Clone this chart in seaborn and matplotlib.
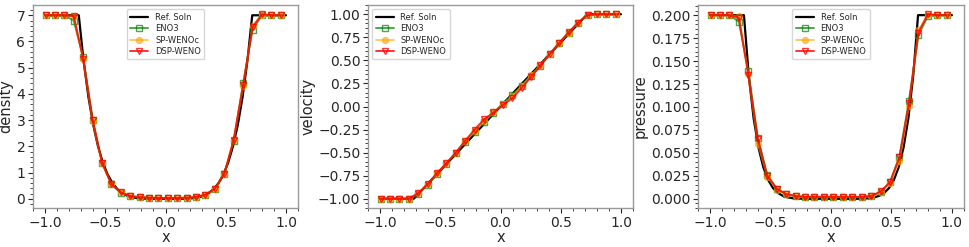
import matplotlib
matplotlib.use("Agg")
import matplotlib.pyplot as plt
from matplotlib.ticker import MultipleLocator, AutoMinorLocator
import seaborn as sns
import numpy as np
import pandas as pd

sns.set_theme(style="ticks")
plt.rcParams['font.family'] = ['DejaVu Sans']

# marker grid (numerical solutions)
x_num = [-0.996, -0.918, -0.840, -0.762, -0.684, -0.605, -0.527, -0.449, -0.371,
         -0.293, -0.215, -0.137, -0.059, 0.020, 0.098, 0.176, 0.254, 0.332,
         0.410, 0.488, 0.566, 0.645, 0.723, 0.801, 0.879, 0.957]

# reference solution points
x_ref = [-1.0, -0.72, -0.68, -0.64, -0.60, -0.56, -0.52, -0.48, -0.44, -0.40, -0.36,
         -0.32, -0.28, -0.24, -0.20, -0.16, -0.12, -0.08, -0.04, 0.0,
         0.04, 0.08, 0.12, 0.16, 0.20, 0.24, 0.28, 0.32, 0.36, 0.40, 0.44,
         0.48, 0.52, 0.56, 0.60, 0.64, 0.68, 0.72, 1.0]

rho_ref = [7.0, 7.0, 5.259, 3.885, 2.813, 1.993, 1.376, 0.922, 0.597, 0.371, 0.219,
           0.121, 0.062, 0.029, 0.012, 0.004, 0.001, 0.0, 0.0, 0.0,
           0.0, 0.0, 0.001, 0.004, 0.012, 0.029, 0.062, 0.121, 0.219, 0.371, 0.597,
           0.922, 1.376, 1.993, 2.813, 3.885, 5.259, 7.0, 7.0]
u_ref = [-1.0, -1.0, -0.944, -0.889, -0.833, -0.778, -0.722, -0.667, -0.611, -0.556, -0.5,
         -0.444, -0.389, -0.333, -0.278, -0.222, -0.167, -0.111, -0.056, 0.0,
         0.056, 0.111, 0.167, 0.222, 0.278, 0.333, 0.389, 0.444, 0.5, 0.556, 0.611,
         0.667, 0.722, 0.778, 0.833, 0.889, 0.944, 1.0, 1.0]
p_ref = [0.2, 0.2, 0.1340, 0.0877, 0.0558, 0.0344, 0.0205, 0.0117, 0.0064, 0.0033, 0.0016,
         0.0007, 0.0003, 0.0001, 0.0, 0.0, 0.0, 0.0, 0.0, 0.0,
         0.0, 0.0, 0.0, 0.0, 0.0, 0.0001, 0.0003, 0.0007, 0.0016, 0.0033, 0.0064,
         0.0117, 0.0205, 0.0344, 0.0558, 0.0877, 0.1340, 0.2, 0.2]

rho_eno3 = [7, 7, 7, 6.8, 5.4, 3.02, 1.38, 0.55, 0.23, 0.10, 0.06, 0.04, 0.03, 0.03,
            0.03, 0.04, 0.07, 0.15, 0.38, 0.93, 2.2, 4.42, 6.45, 7.0, 7, 7]
rho_spwenoc = [7, 7, 7, 6.98, 5.35, 2.95, 1.35, 0.55, 0.24, 0.11, 0.06, 0.04, 0.03, 0.03,
               0.03, 0.04, 0.07, 0.15, 0.38, 0.95, 2.25, 4.3, 6.6, 7.02, 7, 7]
rho_dspweno = [7, 7, 7, 6.97, 5.35, 3.02, 1.38, 0.56, 0.24, 0.11, 0.06, 0.04, 0.03, 0.03,
               0.03, 0.04, 0.07, 0.16, 0.38, 0.95, 2.25, 4.35, 6.55, 7.04, 7, 7]

u_eno3 = [-1, -1, -1, -1, -0.945, -0.85, -0.73, -0.62, -0.5, -0.38, -0.275, -0.17, -0.07,
          0.03, 0.13, 0.22, 0.33, 0.44, 0.57, 0.69, 0.80, 0.91, 0.99, 1, 1, 1]
u_spwenoc = [-1, -1, -1, -1, -0.94, -0.845, -0.725, -0.615, -0.5, -0.375, -0.27, -0.16, -0.065,
             0.025, 0.11, 0.225, 0.34, 0.45, 0.57, 0.69, 0.80, 0.91, 0.99, 1, 1, 1]
u_dspweno = [-1, -1, -1, -1, -0.94, -0.845, -0.72, -0.615, -0.5, -0.37, -0.25, -0.14, -0.065,
             0.015, 0.09, 0.20, 0.32, 0.445, 0.57, 0.69, 0.805, 0.91, 0.99, 1, 1, 1]

p_eno3 = [0.2, 0.2, 0.2, 0.193, 0.139, 0.066, 0.026, 0.011, 0.005, 0.003, 0.002, 0.002, 0.002,
          0.002, 0.002, 0.002, 0.002, 0.003, 0.007, 0.018, 0.046, 0.107, 0.178, 0.199, 0.2, 0.2]
p_spwenoc = [0.2, 0.2, 0.2, 0.199, 0.136, 0.060, 0.024, 0.010, 0.005, 0.003, 0.002, 0.002, 0.002,
             0.002, 0.002, 0.002, 0.002, 0.003, 0.007, 0.017, 0.041, 0.101, 0.184, 0.2, 0.2, 0.2]
p_dspweno = [0.2, 0.2, 0.2, 0.197, 0.135, 0.065, 0.025, 0.011, 0.005, 0.003, 0.002, 0.002, 0.002,
             0.002, 0.002, 0.002, 0.002, 0.003, 0.008, 0.018, 0.045, 0.104, 0.181, 0.201, 0.2, 0.2]

panels = [
    ("density", rho_ref, rho_eno3, rho_spwenoc, rho_dspweno, "upper center", 1.0),
    ("velocity", u_ref, u_eno3, u_spwenoc, u_dspweno, "upper left", 0.25),
    ("pressure", p_ref, p_eno3, p_spwenoc, p_dspweno, "upper center", 0.025),
]

fig = plt.figure(figsize=(9.69, 2.47), dpi=100)
lefts = [33, 368, 698]
widths = [265, 265, 266]
bottom = 39 / 247
height = (208 - 5) / 247

for (ylab, ref, e3, sp, dsp, loc, ystep), l, w in zip(panels, lefts, widths):
    ax = fig.add_axes([l / 969, bottom, w / 969, height])
    sns.lineplot(x=x_ref, y=ref, ax=ax, color="black", lw=1.6, label="Ref. Soln", sort=False)
    sns.lineplot(x=x_num, y=e3, ax=ax, color="green", lw=1.4, alpha=0.7, marker="s",
                 markersize=4.5, markerfacecolor="none", markeredgecolor="green",
                 markeredgewidth=1.0, label="ENO3", sort=False)
    sns.lineplot(x=x_num, y=sp, ax=ax, color="orange", lw=1.4, alpha=0.6, marker="o",
                 markersize=4.5, markeredgecolor="orange", label="SP-WENOc", sort=False)
    sns.lineplot(x=x_num, y=dsp, ax=ax, color="red", lw=1.4, alpha=0.8, marker="v",
                 markersize=4.5, markerfacecolor="none", markeredgecolor="red",
                 markeredgewidth=1.0, label="DSP-WENO", sort=False)
    ax.set_xlim(-1.1, 1.1)
    ax.set_xlabel("x", fontsize=10.5, labelpad=0)
    ax.set_ylabel(ylab, fontsize=10.5, labelpad=2)
    ax.xaxis.set_major_locator(MultipleLocator(0.5))
    ax.yaxis.set_major_locator(MultipleLocator(ystep))
    ax.xaxis.set_minor_locator(AutoMinorLocator(5))
    ax.yaxis.set_minor_locator(AutoMinorLocator(5))
    ax.tick_params(axis="both", which="major", labelsize=10, length=3.5, width=0.8, pad=2)
    ax.tick_params(axis="both", which="minor", length=2, width=0.6)
    for s in ax.spines.values():
        s.set_color("#999999")
        s.set_linewidth(1.0)
    leg = ax.legend(loc=loc, fontsize=6, frameon=True, handlelength=2.2,
                    borderpad=0.4, labelspacing=0.3)
    leg.get_frame().set_edgecolor("#cccccc")

fig.savefig("out.png", dpi=100)
